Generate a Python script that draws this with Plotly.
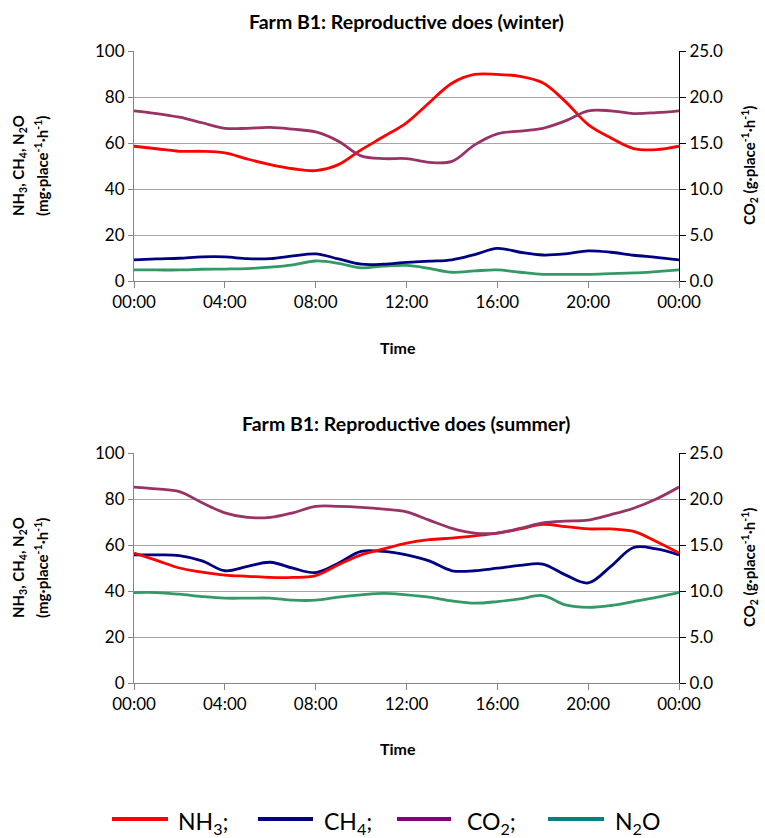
import plotly.graph_objects as go

# Hour of day (0 = 00:00, 24 = next 00:00)
hours = list(range(25))
tick_hours = [0, 4, 8, 12, 16, 20, 24]
tick_labels = ["00:00", "04:00", "08:00", "12:00", "16:00", "20:00", "00:00"]

# Winter, mg·place-1·h-1 (left axis) and g·place-1·h-1 (right axis)
nh3_winter = [58.6, 57.5, 56.4, 56.4, 55.7, 53.0, 50.6, 48.8, 48.0, 50.6, 57.0, 62.8,
              68.8, 77.5, 86.0, 89.8, 89.8, 89.0, 86.2, 78.0, 68.0, 62.2, 57.6, 57.1, 58.6]
ch4_winter = [9.2, 9.6, 9.9, 10.5, 10.5, 9.7, 9.7, 10.9, 11.8, 9.6, 7.3, 7.3,
              8.1, 8.6, 9.2, 11.5, 14.2, 12.5, 11.3, 11.8, 13.1, 12.5, 11.2, 10.3, 9.2]
co2_winter = [18.5, 18.2, 17.8, 17.2, 16.6, 16.6, 16.7, 16.5, 16.2, 15.2, 13.6, 13.3,
              13.3, 12.9, 13.0, 14.8, 16.0, 16.3, 16.6, 17.4, 18.5, 18.5, 18.2, 18.3, 18.5]
n2o_winter = [4.8, 4.8, 4.8, 5.1, 5.2, 5.4, 6.0, 7.0, 8.7, 7.7, 5.7, 6.5,
              6.8, 5.5, 3.8, 4.4, 4.8, 3.8, 2.9, 2.9, 2.9, 3.2, 3.5, 4.1, 4.8]

# Summer
nh3_summer = [56.5, 53.3, 50.0, 48.2, 46.9, 46.4, 45.9, 45.9, 46.7, 51.4, 55.7, 58.3,
              60.8, 62.3, 63.0, 64.0, 65.2, 67.0, 69.0, 68.0, 67.0, 67.0, 65.9, 61.5, 56.5]
ch4_summer = [55.7, 55.7, 55.4, 53.1, 48.8, 50.7, 52.5, 49.9, 48.0, 52.1, 57.2, 57.2,
              55.7, 53.1, 48.8, 48.8, 49.9, 51.1, 51.7, 47.0, 43.5, 50.7, 58.9, 58.3, 55.7]
co2_summer = [21.3, 21.1, 20.8, 19.6, 18.5, 18.0, 18.0, 18.5, 19.2, 19.2, 19.1, 18.9,
              18.6, 17.7, 16.8, 16.3, 16.3, 16.8, 17.4, 17.6, 17.7, 18.3, 19.0, 20.0, 21.3]
n2o_summer = [39.3, 39.3, 38.6, 37.6, 36.9, 36.9, 36.9, 36.0, 36.0, 37.3, 38.3, 39.0,
              38.3, 37.3, 35.7, 34.7, 35.4, 36.6, 38.0, 34.0, 32.9, 33.7, 35.4, 37.2, 39.3]

# Series styling
NH3_COLOR = "#FF0000"
CH4_COLOR = "#000080"
CO2_COLOR = "#993366"
N2O_COLOR = "#339966"
LEG_CO2 = "#800080"
LEG_N2O = "#008080"

W, H = 765, 838
FONT = "Lato"


def px_x(x):
    return x / W


def px_y(y):
    return 1 - y / H


X_DOM = [px_x(134), px_x(679)]
TOP_DOM = [px_y(281), px_y(51)]
BOT_DOM = [px_y(683), px_y(453)]

fig = go.Figure()


def add_panel(xa, ya_left, ya_right, nh3, ch4, co2, n2o):
    common = dict(mode="lines", line_shape="spline", showlegend=False, hoverinfo="skip")
    fig.add_trace(go.Scatter(x=hours, y=n2o, xaxis=xa, yaxis=ya_left,
                             line=dict(color=N2O_COLOR, width=2.8, smoothing=1), **common))
    fig.add_trace(go.Scatter(x=hours, y=ch4, xaxis=xa, yaxis=ya_left,
                             line=dict(color=CH4_COLOR, width=2.8, smoothing=1), **common))
    fig.add_trace(go.Scatter(x=hours, y=co2, xaxis=xa, yaxis=ya_right,
                             line=dict(color=CO2_COLOR, width=2.8, smoothing=1), **common))
    fig.add_trace(go.Scatter(x=hours, y=nh3, xaxis=xa, yaxis=ya_left,
                             line=dict(color=NH3_COLOR, width=2.8, smoothing=1), **common))


add_panel("x", "y", "y2", nh3_winter, ch4_winter, co2_winter, n2o_winter)
add_panel("x2", "y3", "y4", nh3_summer, ch4_summer, co2_summer, n2o_summer)

tick_font = dict(family=FONT, size=17, color="#000000")
GRID = "#A6A6A6"
AXIS_GRAY = "#868686"

xaxis_style = dict(domain=X_DOM, range=[0, 24], tickvals=tick_hours, ticktext=tick_labels,
                   showline=True, linecolor=AXIS_GRAY, linewidth=1, ticks="outside",
                   ticklen=6, tickcolor=AXIS_GRAY, showgrid=False, zeroline=False,
                   tickfont=tick_font, fixedrange=True, automargin=False)
left_style = dict(range=[0, 100], tickvals=[0, 20, 40, 60, 80, 100], showline=True,
                  linecolor=AXIS_GRAY, linewidth=1, ticks="outside", ticklen=5,
                  tickcolor=AXIS_GRAY, showgrid=True, gridcolor=GRID, gridwidth=1.3,
                  zeroline=False, tickfont=tick_font, fixedrange=True, automargin=False)
right_style = dict(range=[0, 25], tickvals=[0, 5, 10, 15, 20, 25], tickformat=".1f",
                   side="right", showline=True, linecolor="#000000", linewidth=1,
                   ticks="outside", ticklen=6, tickcolor="#000000", showgrid=False,
                   zeroline=False, tickfont=tick_font, fixedrange=True, automargin=False)
right_inner = dict(range=[0, 25], tickvals=[0, 5, 10, 15, 20, 25], side="right",
                   showline=False, ticks="inside", ticklen=5, tickcolor="#000000",
                   showticklabels=False, showgrid=False, zeroline=False, fixedrange=True,
                   automargin=False)

fig.update_layout(
    width=W, height=H,
    margin=dict(l=0, r=0, t=0, b=0, autoexpand=False),
    paper_bgcolor="white", plot_bgcolor="white",
    showlegend=False,
    xaxis=dict(anchor="y", **xaxis_style),
    yaxis=dict(domain=TOP_DOM, anchor="x", **left_style),
    yaxis2=dict(domain=TOP_DOM, anchor="x", overlaying="y", **right_style),
    yaxis5=dict(domain=TOP_DOM, anchor="x", overlaying="y", **right_inner),
    xaxis2=dict(anchor="y3", **xaxis_style),
    yaxis3=dict(domain=BOT_DOM, anchor="x2", **left_style),
    yaxis4=dict(domain=BOT_DOM, anchor="x2", overlaying="y3", **right_style),
    yaxis6=dict(domain=BOT_DOM, anchor="x2", overlaying="y3", **right_inner),
)

annotations = []
title_font = dict(family=FONT, size=19.5, color="#000000")
label_font = dict(family=FONT, size=15, color="#000000")
time_font = dict(family=FONT, size=16, color="#000000")


def ann(text, x, y, font, **kw):
    annotations.append(dict(text=text, x=px_x(x), y=px_y(y), xref="paper", yref="paper",
                            showarrow=False, font=font, **kw))


for title, ty, timey, mid in [
    ("<b>Farm B1: Reproductive does (winter)</b>", 22, 348, 166),
    ("<b>Farm B1: Reproductive does (summer)</b>", 424, 748, 568),
]:
    ann(title, 406, ty, title_font, xanchor="center", yanchor="middle")
    ann("<b>Time</b>", 398, timey, time_font, xanchor="center", yanchor="middle")
    ann("<b>NH<sub>3</sub>, CH<sub>4</sub>, N<sub>2</sub>O</b>",
        19, mid, label_font, xanchor="center", yanchor="middle", textangle=-90)
    ann("<b>(mg·place<sup>-1</sup>·h<sup>-1</sup>)</b>",
        41, mid, label_font, xanchor="center", yanchor="middle", textangle=-90)
    ann("<b>CO<sub>2</sub> (g·place<sup>-1</sup>·h<sup>-1</sup>)</b>",
        749, mid, label_font, xanchor="center", yanchor="middle", textangle=-90)

# Legend row
legend_items = [
    ("NH<sub>3</sub>;", NH3_COLOR, 112, 168, 176),
    ("CH<sub>4</sub>;", CH4_COLOR, 258, 313, 322),
    ("CO<sub>2</sub>;", LEG_CO2, 397, 451, 465),
    ("N<sub>2</sub>O", LEG_N2O, 548, 604, 613),
]
shapes = []
leg_font = dict(family=FONT, size=23, color="#000000")
for text, color, x0, x1, tx in legend_items:
    shapes.append(dict(type="line", xref="paper", yref="paper", x0=px_x(x0), x1=px_x(x1),
                       y0=px_y(819), y1=px_y(819), line=dict(color=color, width=4)))
    ann(text, tx, 822, leg_font, xanchor="left", yanchor="middle")

fig.update_layout(annotations=annotations, shapes=shapes)

fig.write_html("out.html")
